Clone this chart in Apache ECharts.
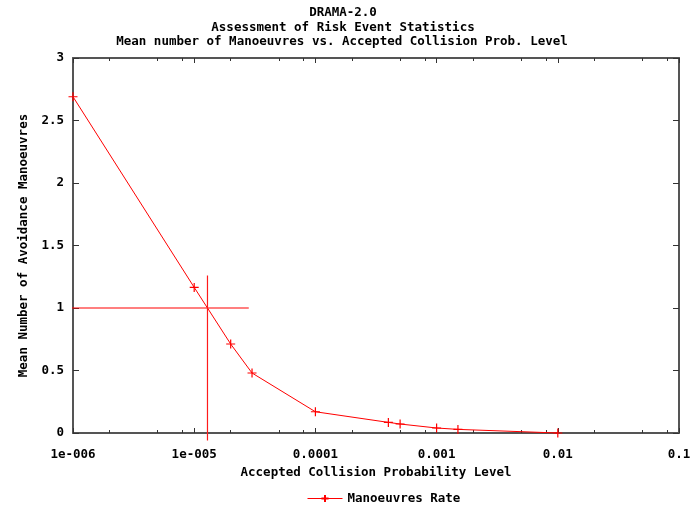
<!DOCTYPE html>
<html>
<head>
<meta charset="utf-8">
<script src="https://cdn.jsdelivr.net/npm/echarts@6/dist/echarts.min.js"></script>
<style>
html, body { margin: 0; padding: 0; background: #fff; }
#main { width: 700px; height: 506px; }
</style>
</head>
<body>
<div id="main"></div>
<script>
var chart = echarts.init(document.getElementById("main"));

// data
var rateX = [1e-6, 1e-5, 2e-5, 3e-5, 1e-4, 4e-4, 5e-4, 1e-3, 1.5e-3, 1e-2];
var rateY = [2.69, 1.165, 0.712, 0.48, 0.17, 0.085, 0.072, 0.04, 0.029, 0.0];

// crosshair at 1 manoeuvre
var crossX = 1.287e-5;
var crossY = 1;
var hLineX = [8.8e-7, 2.82e-5];
var vLineY = [1.26, -0.06];

// axis ticks
var xMajor = [1e-6, 1e-5, 1e-4, 1e-3, 1e-2, 1e-1];
var xTickLabels = ['1e-006', '1e-005', '0.0001', '0.001', '0.01', '0.1'];
var xMinor = [2e-6, 5e-6, 8e-6, 2e-5, 5e-5, 8e-5, 2e-4, 5e-4, 8e-4, 2e-3, 5e-3, 8e-3, 2e-2, 5e-2, 8e-2];

var rateData = [];
for (var i = 0; i < rateX.length; i++) {
    rateData.push([rateX[i], rateY[i]]);
}

var font = 'DejaVu Sans Mono';
var txt = { fontFamily: font, fontSize: 12.5, fontWeight: 'bold', color: '#000' };
var border = { show: true, lineStyle: { color: '#555', width: 2 } };
var plus = 'path://M0,-1L0,1M-1,0L1,0';
var red = '#ff0000';

function majorLabel(v) {
    for (var i = 0; i < xMajor.length; i++) {
        if (Math.abs(Math.log10(v) - Math.log10(xMajor[i])) < 1e-6) return xTickLabels[i];
    }
    return '';
}

function xAx(pos, minor, labels) {
    return {
        type: 'log', logBase: 10, min: 1e-6, max: 0.1, position: pos,
        axisLine: minor ? { show: false } : border,
        axisTick: { show: true, inside: true, length: minor ? 3 : 5, customValues: minor ? xMinor : xMajor,
            lineStyle: { color: '#333', width: 1 } },
        axisLabel: labels ? Object.assign({ show: true, margin: 15, customValues: xMajor, formatter: majorLabel }, txt) : { show: false },
        splitLine: { show: false },
        name: labels ? 'Accepted Collision Probability Level' : '',
        nameLocation: 'middle', nameGap: 29, nameTextStyle: txt
    };
}

function yAx(pos, labels) {
    return {
        type: 'value', min: 0, max: 3, interval: 0.5, position: pos,
        axisLine: border,
        axisTick: { show: true, inside: true, length: 6, lineStyle: { color: '#333', width: 1 } },
        axisLabel: labels ? Object.assign({ show: true, margin: 9 }, txt) : { show: false },
        splitLine: { show: false },
        name: labels ? 'Mean Number of Avoidance Manoeuvres' : '',
        nameLocation: 'middle', nameGap: 29, nameRotate: 90, nameTextStyle: txt
    };
}

var option = {
    backgroundColor: '#fff',
    animation: false,
    color: [red, red, red],
    title: [
        { text: 'DRAMA-2.0', left: 338, top: 1, textAlign: 'center', textStyle: txt },
        { text: 'Assessment of Risk Event Statistics', left: 338, top: 16, textAlign: 'center', textStyle: txt },
        { text: 'Mean number of Manoeuvres vs. Accepted Collision Prob. Level', left: 337, top: 30, textAlign: 'center', textStyle: txt }
    ],
    grid: { left: 73, right: 21, top: 58, bottom: 73 },
    legend: {
        data: ['Manoeuvres Rate'],
        left: 302, top: 487,
        itemWidth: 35, itemHeight: 9, itemGap: 0,
        lineStyle: { width: 1, color: red },
        textStyle: txt
    },
    xAxis: [xAx('bottom', false, true), xAx('bottom', true, false), xAx('top', false, false), xAx('top', true, false)],
    yAxis: [yAx('left', true), yAx('right', false)],
    series: [
        {
            name: 'Manoeuvres Rate',
            type: 'line',
            data: rateData,
            symbol: plus,
            symbolSize: 9,
            showAllSymbol: true,
            itemStyle: { color: red, borderColor: red, borderWidth: 1.2 },
            lineStyle: { color: red, width: 1 },
            clip: false
        },
        {
            type: 'line',
            data: [[hLineX[0], crossY], [hLineX[1], crossY]],
            symbol: 'none',
            itemStyle: { color: red },
            lineStyle: { color: red, width: 1.2 },
            clip: false,
            silent: true
        },
        {
            type: 'line',
            data: [[crossX, vLineY[0]], [crossX, vLineY[1]]],
            symbol: 'none',
            itemStyle: { color: red },
            lineStyle: { color: '#ff1a1a', width: 1.2, opacity: 1 },
            clip: false,
            silent: true,
            z: 5
        }
    ]
};

chart.setOption(option);
</script>
</body>
</html>
